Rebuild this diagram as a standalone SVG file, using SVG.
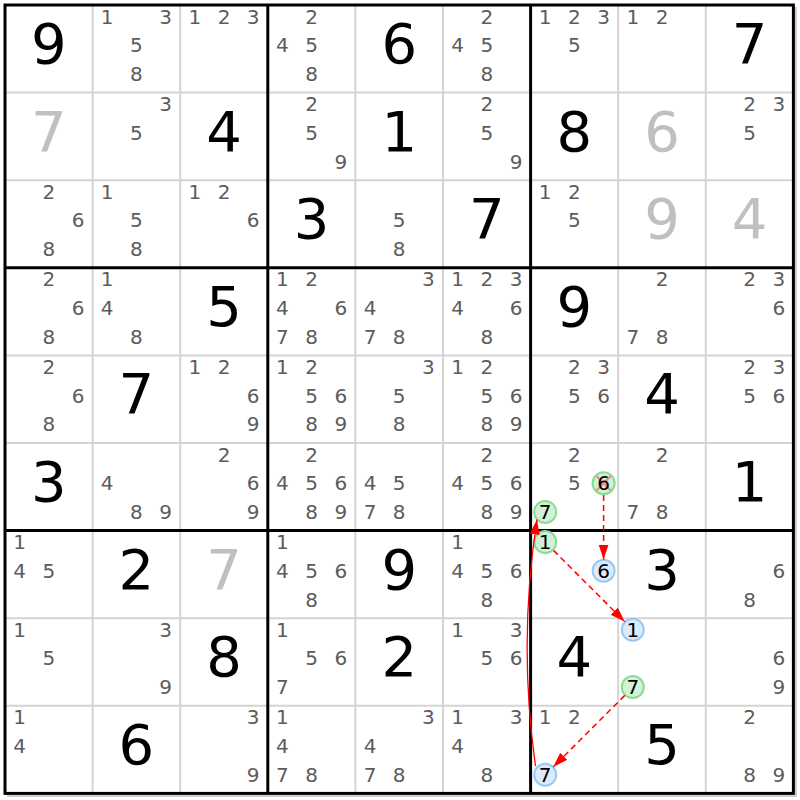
<svg xmlns="http://www.w3.org/2000/svg" width="800" height="800" viewBox="0 0 800 800">
<style>
text{font-family:"DejaVu Sans","Liberation Sans",sans-serif;text-anchor:middle}
.c{font-size:20px;fill:#5c5c5c}
.g{font-size:56px;fill:#000}
.s{font-size:56px;fill:#c0c0c0}
.k{font-size:20px;fill:#000}
.thin{stroke:#d4d4d4;stroke-width:2}
.thick{stroke:#000;stroke-width:3}
.gc{fill:#d3f1d6;stroke:#86dd94;stroke-width:2}
.bc{fill:#dbeafc;stroke:#98c9f2;stroke-width:2}
.dash{fill:none;stroke:#f00;stroke-width:1.5;stroke-dasharray:6,4}
.solid{fill:none;stroke:#f00;stroke-width:1.3}
</style>
<defs>
<marker id="ah" markerUnits="userSpaceOnUse" markerWidth="16" markerHeight="12" refX="15" refY="5" orient="auto">
<path d="M0,0 L15,5 L0,10 z" fill="#f00"/>
</marker>
</defs>
<rect width="800" height="800" fill="#fff"/>
<g id="grid">
<line x1="796" y1="7" x2="796" y2="797" stroke="#cfcfcf" stroke-width="2"/>
<line x1="7" y1="796" x2="797" y2="796" stroke="#cfcfcf" stroke-width="2"/>
<g class="thin">
<line x1="92.6" y1="5" x2="92.6" y2="793.4"/><line x1="180.2" y1="5" x2="180.2" y2="793.4"/>
<line x1="355.4" y1="5" x2="355.4" y2="793.4"/><line x1="443" y1="5" x2="443" y2="793.4"/>
<line x1="618.2" y1="5" x2="618.2" y2="793.4"/><line x1="705.8" y1="5" x2="705.8" y2="793.4"/>
<line y1="92.6" x1="5" y2="92.6" x2="793.4"/><line y1="180.2" x1="5" y2="180.2" x2="793.4"/>
<line y1="355.4" x1="5" y2="355.4" x2="793.4"/><line y1="443" x1="5" y2="443" x2="793.4"/>
<line y1="618.2" x1="5" y2="618.2" x2="793.4"/><line y1="705.8" x1="5" y2="705.8" x2="793.4"/>
</g>
<g class="thick">
<line x1="267.8" y1="5" x2="267.8" y2="793.4"/><line x1="530.6" y1="5" x2="530.6" y2="793.4"/>
<line y1="267.8" x1="5" y2="267.8" x2="793.4"/><line y1="530.6" x1="5" y2="530.6" x2="793.4"/>
<rect x="5" y="5" width="788.4" height="788.4" fill="none"/>
</g>
</g>
<g id="r1">
<g id="r1c1"><text class="g" x="48.8" y="63">9</text></g>
<g id="r1c2"><text class="c" x="107.2" y="23.5">1</text><text class="c" x="165.6" y="23.5">3</text><text class="c" x="136.4" y="52.2">5</text><text class="c" x="136.4" y="80.9">8</text></g>
<g id="r1c3"><text class="c" x="194.8" y="23.5">1</text><text class="c" x="224" y="23.5">2</text><text class="c" x="253.2" y="23.5">3</text></g>
<g id="r1c4"><text class="c" x="311.6" y="23.5">2</text><text class="c" x="282.4" y="52.2">4</text><text class="c" x="311.6" y="52.2">5</text><text class="c" x="311.6" y="80.9">8</text></g>
<g id="r1c5"><text class="g" x="399.2" y="63">6</text></g>
<g id="r1c6"><text class="c" x="486.8" y="23.5">2</text><text class="c" x="457.6" y="52.2">4</text><text class="c" x="486.8" y="52.2">5</text><text class="c" x="486.8" y="80.9">8</text></g>
<g id="r1c7"><text class="c" x="545.2" y="23.5">1</text><text class="c" x="574.4" y="23.5">2</text><text class="c" x="603.6" y="23.5">3</text><text class="c" x="574.4" y="52.2">5</text></g>
<g id="r1c8"><text class="c" x="632.8" y="23.5">1</text><text class="c" x="662" y="23.5">2</text></g>
<g id="r1c9"><text class="g" x="749.6" y="63">7</text></g>
</g>
<g id="r2">
<g id="r2c1"><text class="s" x="48.8" y="150.6">7</text></g>
<g id="r2c2"><text class="c" x="165.6" y="111.1">3</text><text class="c" x="136.4" y="139.8">5</text></g>
<g id="r2c3"><text class="g" x="224" y="150.6">4</text></g>
<g id="r2c4"><text class="c" x="311.6" y="111.1">2</text><text class="c" x="311.6" y="139.8">5</text><text class="c" x="340.8" y="168.5">9</text></g>
<g id="r2c5"><text class="g" x="399.2" y="150.6">1</text></g>
<g id="r2c6"><text class="c" x="486.8" y="111.1">2</text><text class="c" x="486.8" y="139.8">5</text><text class="c" x="516" y="168.5">9</text></g>
<g id="r2c7"><text class="g" x="574.4" y="150.6">8</text></g>
<g id="r2c8"><text class="s" x="662" y="150.6">6</text></g>
<g id="r2c9"><text class="c" x="749.6" y="111.1">2</text><text class="c" x="778.8" y="111.1">3</text><text class="c" x="749.6" y="139.8">5</text></g>
</g>
<g id="r3">
<g id="r3c1"><text class="c" x="48.8" y="198.7">2</text><text class="c" x="78" y="227.4">6</text><text class="c" x="48.8" y="256.1">8</text></g>
<g id="r3c2"><text class="c" x="107.2" y="198.7">1</text><text class="c" x="136.4" y="227.4">5</text><text class="c" x="136.4" y="256.1">8</text></g>
<g id="r3c3"><text class="c" x="194.8" y="198.7">1</text><text class="c" x="224" y="198.7">2</text><text class="c" x="253.2" y="227.4">6</text></g>
<g id="r3c4"><text class="g" x="311.6" y="238.2">3</text></g>
<g id="r3c5"><text class="c" x="399.2" y="227.4">5</text><text class="c" x="399.2" y="256.1">8</text></g>
<g id="r3c6"><text class="g" x="486.8" y="238.2">7</text></g>
<g id="r3c7"><text class="c" x="545.2" y="198.7">1</text><text class="c" x="574.4" y="198.7">2</text><text class="c" x="574.4" y="227.4">5</text></g>
<g id="r3c8"><text class="s" x="662" y="238.2">9</text></g>
<g id="r3c9"><text class="s" x="749.6" y="238.2">4</text></g>
</g>
<g id="r4">
<g id="r4c1"><text class="c" x="48.8" y="286.3">2</text><text class="c" x="78" y="315">6</text><text class="c" x="48.8" y="343.7">8</text></g>
<g id="r4c2"><text class="c" x="107.2" y="286.3">1</text><text class="c" x="107.2" y="315">4</text><text class="c" x="136.4" y="343.7">8</text></g>
<g id="r4c3"><text class="g" x="224" y="325.8">5</text></g>
<g id="r4c4"><text class="c" x="282.4" y="286.3">1</text><text class="c" x="311.6" y="286.3">2</text><text class="c" x="282.4" y="315">4</text><text class="c" x="340.8" y="315">6</text><text class="c" x="282.4" y="343.7">7</text><text class="c" x="311.6" y="343.7">8</text></g>
<g id="r4c5"><text class="c" x="428.4" y="286.3">3</text><text class="c" x="370" y="315">4</text><text class="c" x="370" y="343.7">7</text><text class="c" x="399.2" y="343.7">8</text></g>
<g id="r4c6"><text class="c" x="457.6" y="286.3">1</text><text class="c" x="486.8" y="286.3">2</text><text class="c" x="516" y="286.3">3</text><text class="c" x="457.6" y="315">4</text><text class="c" x="516" y="315">6</text><text class="c" x="486.8" y="343.7">8</text></g>
<g id="r4c7"><text class="g" x="574.4" y="325.8">9</text></g>
<g id="r4c8"><text class="c" x="662" y="286.3">2</text><text class="c" x="632.8" y="343.7">7</text><text class="c" x="662" y="343.7">8</text></g>
<g id="r4c9"><text class="c" x="749.6" y="286.3">2</text><text class="c" x="778.8" y="286.3">3</text><text class="c" x="778.8" y="315">6</text></g>
</g>
<g id="r5">
<g id="r5c1"><text class="c" x="48.8" y="373.9">2</text><text class="c" x="78" y="402.6">6</text><text class="c" x="48.8" y="431.3">8</text></g>
<g id="r5c2"><text class="g" x="136.4" y="413.4">7</text></g>
<g id="r5c3"><text class="c" x="194.8" y="373.9">1</text><text class="c" x="224" y="373.9">2</text><text class="c" x="253.2" y="402.6">6</text><text class="c" x="253.2" y="431.3">9</text></g>
<g id="r5c4"><text class="c" x="282.4" y="373.9">1</text><text class="c" x="311.6" y="373.9">2</text><text class="c" x="311.6" y="402.6">5</text><text class="c" x="340.8" y="402.6">6</text><text class="c" x="311.6" y="431.3">8</text><text class="c" x="340.8" y="431.3">9</text></g>
<g id="r5c5"><text class="c" x="428.4" y="373.9">3</text><text class="c" x="399.2" y="402.6">5</text><text class="c" x="399.2" y="431.3">8</text></g>
<g id="r5c6"><text class="c" x="457.6" y="373.9">1</text><text class="c" x="486.8" y="373.9">2</text><text class="c" x="486.8" y="402.6">5</text><text class="c" x="516" y="402.6">6</text><text class="c" x="486.8" y="431.3">8</text><text class="c" x="516" y="431.3">9</text></g>
<g id="r5c7"><text class="c" x="574.4" y="373.9">2</text><text class="c" x="603.6" y="373.9">3</text><text class="c" x="574.4" y="402.6">5</text><text class="c" x="603.6" y="402.6">6</text></g>
<g id="r5c8"><text class="g" x="662" y="413.4">4</text></g>
<g id="r5c9"><text class="c" x="749.6" y="373.9">2</text><text class="c" x="778.8" y="373.9">3</text><text class="c" x="749.6" y="402.6">5</text><text class="c" x="778.8" y="402.6">6</text></g>
</g>
<g id="r6">
<g id="r6c1"><text class="g" x="48.8" y="501">3</text></g>
<g id="r6c2"><text class="c" x="107.2" y="490.2">4</text><text class="c" x="136.4" y="518.9">8</text><text class="c" x="165.6" y="518.9">9</text></g>
<g id="r6c3"><text class="c" x="224" y="461.5">2</text><text class="c" x="253.2" y="490.2">6</text><text class="c" x="253.2" y="518.9">9</text></g>
<g id="r6c4"><text class="c" x="311.6" y="461.5">2</text><text class="c" x="282.4" y="490.2">4</text><text class="c" x="311.6" y="490.2">5</text><text class="c" x="340.8" y="490.2">6</text><text class="c" x="311.6" y="518.9">8</text><text class="c" x="340.8" y="518.9">9</text></g>
<g id="r6c5"><text class="c" x="370" y="490.2">4</text><text class="c" x="399.2" y="490.2">5</text><text class="c" x="370" y="518.9">7</text><text class="c" x="399.2" y="518.9">8</text></g>
<g id="r6c6"><text class="c" x="486.8" y="461.5">2</text><text class="c" x="457.6" y="490.2">4</text><text class="c" x="486.8" y="490.2">5</text><text class="c" x="516" y="490.2">6</text><text class="c" x="486.8" y="518.9">8</text><text class="c" x="516" y="518.9">9</text></g>
<g id="r6c7"><text class="c" x="574.4" y="461.5">2</text><text class="c" x="574.4" y="490.2">5</text>
<circle class="gc" cx="603.6" cy="483.2" r="11"/>
<path d="M596.5,476 L610.7,490.4 M610.7,476 L596.5,490.4" stroke="#f08c8c" stroke-width="2.2"/>
<text class="k" x="603.6" y="490.2">6</text>
<circle class="gc" cx="545.2" cy="511.9" r="11"/><text class="k" x="545.2" y="518.9">7</text></g>
<g id="r6c8"><text class="c" x="662" y="461.5">2</text><text class="c" x="632.8" y="518.9">7</text><text class="c" x="662" y="518.9">8</text></g>
<g id="r6c9"><text class="g" x="749.6" y="501">1</text></g>
</g>
<g id="r7">
<g id="r7c1"><text class="c" x="19.6" y="549.1">1</text><text class="c" x="19.6" y="577.8">4</text><text class="c" x="48.8" y="577.8">5</text></g>
<g id="r7c2"><text class="g" x="136.4" y="588.6">2</text></g>
<g id="r7c3"><text class="s" x="224" y="588.6">7</text></g>
<g id="r7c4"><text class="c" x="282.4" y="549.1">1</text><text class="c" x="282.4" y="577.8">4</text><text class="c" x="311.6" y="577.8">5</text><text class="c" x="340.8" y="577.8">6</text><text class="c" x="311.6" y="606.5">8</text></g>
<g id="r7c5"><text class="g" x="399.2" y="588.6">9</text></g>
<g id="r7c6"><text class="c" x="457.6" y="549.1">1</text><text class="c" x="457.6" y="577.8">4</text><text class="c" x="486.8" y="577.8">5</text><text class="c" x="516" y="577.8">6</text><text class="c" x="486.8" y="606.5">8</text></g>
<g id="r7c7"><circle class="gc" cx="545.2" cy="542.1" r="11"/><text class="k" x="545.2" y="549.1">1</text>
<circle class="bc" cx="603.6" cy="570.8" r="11"/><text class="k" x="603.6" y="577.8">6</text></g>
<g id="r7c8"><text class="g" x="662" y="588.6">3</text></g>
<g id="r7c9"><text class="c" x="778.8" y="577.8">6</text><text class="c" x="749.6" y="606.5">8</text></g>
</g>
<g id="r8">
<g id="r8c1"><text class="c" x="19.6" y="636.7">1</text><text class="c" x="48.8" y="665.4">5</text></g>
<g id="r8c2"><text class="c" x="165.6" y="636.7">3</text><text class="c" x="165.6" y="694.1">9</text></g>
<g id="r8c3"><text class="g" x="224" y="676.2">8</text></g>
<g id="r8c4"><text class="c" x="282.4" y="636.7">1</text><text class="c" x="311.6" y="665.4">5</text><text class="c" x="340.8" y="665.4">6</text><text class="c" x="282.4" y="694.1">7</text></g>
<g id="r8c5"><text class="g" x="399.2" y="676.2">2</text></g>
<g id="r8c6"><text class="c" x="457.6" y="636.7">1</text><text class="c" x="516" y="636.7">3</text><text class="c" x="486.8" y="665.4">5</text><text class="c" x="516" y="665.4">6</text></g>
<g id="r8c7"><text class="g" x="574.4" y="676.2">4</text></g>
<g id="r8c8"><circle class="bc" cx="632.8" cy="629.7" r="11"/><text class="k" x="632.8" y="636.7">1</text>
<circle class="gc" cx="632.8" cy="687.1" r="11"/><text class="k" x="632.8" y="694.1">7</text></g>
<g id="r8c9"><text class="c" x="778.8" y="665.4">6</text><text class="c" x="778.8" y="694.1">9</text></g>
</g>
<g id="r9">
<g id="r9c1"><text class="c" x="19.6" y="724.3">1</text><text class="c" x="19.6" y="753">4</text></g>
<g id="r9c2"><text class="g" x="136.4" y="763.8">6</text></g>
<g id="r9c3"><text class="c" x="253.2" y="724.3">3</text><text class="c" x="253.2" y="781.7">9</text></g>
<g id="r9c4"><text class="c" x="282.4" y="724.3">1</text><text class="c" x="282.4" y="753">4</text><text class="c" x="282.4" y="781.7">7</text><text class="c" x="311.6" y="781.7">8</text></g>
<g id="r9c5"><text class="c" x="428.4" y="724.3">3</text><text class="c" x="370" y="753">4</text><text class="c" x="370" y="781.7">7</text><text class="c" x="399.2" y="781.7">8</text></g>
<g id="r9c6"><text class="c" x="457.6" y="724.3">1</text><text class="c" x="516" y="724.3">3</text><text class="c" x="457.6" y="753">4</text><text class="c" x="486.8" y="781.7">8</text></g>
<g id="r9c7"><text class="c" x="545.2" y="724.3">1</text><text class="c" x="574.4" y="724.3">2</text>
<circle class="bc" cx="545.2" cy="774.7" r="11"/><text class="k" x="545.2" y="781.7">7</text></g>
<g id="r9c8"><text class="g" x="662" y="763.8">5</text></g>
<g id="r9c9"><text class="c" x="749.6" y="724.3">2</text><text class="c" x="749.6" y="781.7">8</text><text class="c" x="778.8" y="781.7">9</text></g>
</g>
<g id="connectors">
<path class="dash" d="M603.6,495 L603.6,559.5" marker-end="url(#ah)"/>
<path class="dash" d="M553.5,550.4 L624.8,621.7" marker-end="url(#ah)"/>
<path class="dash" d="M624.8,695.4 L553.2,766.9" marker-end="url(#ah)"/>
<path class="solid" d="M535.5,766 Q518,642 537,519.5" marker-end="url(#ah)"/>
</g>
</svg>
